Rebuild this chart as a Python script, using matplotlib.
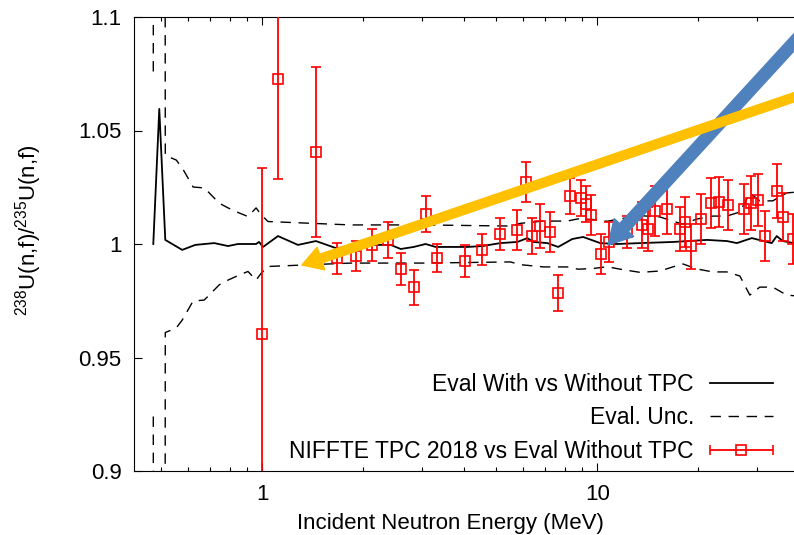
import numpy as np
import matplotlib
matplotlib.use('Agg')
import matplotlib.pyplot as plt
from matplotlib.ticker import FuncFormatter, NullFormatter, FixedLocator
from matplotlib.legend_handler import HandlerErrorbar
from matplotlib.lines import Line2D
from matplotlib.patches import FancyArrowPatch

plt.rcParams['font.family'] = ['Liberation Sans', 'DejaVu Sans']
plt.rcParams['mathtext.fontset'] = 'custom'
plt.rcParams['mathtext.rm'] = 'Liberation Sans'
plt.rcParams['font.size'] = 16

# evaluation with vs without TPC (ratio)
eval_e = [0.4738, 0.4937, 0.5145, 0.578, 0.632, 0.720, 0.792, 0.848, 0.960, 0.980,
          1.007, 1.116, 1.280, 1.448, 1.661, 1.931, 2.154, 2.421, 2.593, 2.835,
          3.077, 3.295, 4.104, 4.548, 5.144, 5.78, 6.19, 6.45, 7.10, 7.65,
          8.43, 9.08, 10.21, 11.47, 13.43, 16.84, 21.26, 24.37, 26.11, 28.93,
          33.18, 34.33, 35.78, 38.59, 42.0]
eval_r = [1.0, 1.0595, 1.0018, 0.9974, 0.9996, 1.0004, 0.9991, 1.0, 1.0, 1.0009,
          0.9987, 1.0035, 0.9996, 1.0013, 0.9982, 0.9991, 0.9996, 0.9996, 0.9978, 0.9987,
          1.0, 0.9987, 0.9987, 0.9991, 1.0004, 1.0009, 1.0026, 1.0009, 1.0004, 0.9987,
          1.0022, 1.0031, 1.0004, 1.0, 1.0004, 1.0009, 1.0018, 1.0013, 1.0004, 1.0026,
          1.0004, 1.0035, 1.0013, 1.0004, 1.0]

# relative evaluation uncertainty (band = 1 +/- unc)
unc_e = [0.4738, 0.4937, 0.5145, 0.5546, 0.578, 0.623, 0.672, 0.696, 0.745, 0.792,
         0.854, 0.908, 0.960, 0.993, 1.042, 1.306, 1.840, 3.077, 5.51, 5.90,
         6.91, 8.14, 8.78, 9.73, 10.71, 11.71, 13.43, 15.40, 17.30, 18.03,
         19.84, 22.14, 24.37, 26.65, 28.54, 30.55, 33.41, 36.77, 40.2]
unc = [0.076, 4.0, 0.039, 0.037, 0.0335, 0.0251, 0.0247, 0.0225, 0.018, 0.0159,
       0.0137, 0.0121, 0.0159, 0.013, 0.0099, 0.0093, 0.0084, 0.0084, 0.0079, 0.0091,
       0.0101, 0.0101, 0.0111, 0.0108, 0.0100, 0.0111, 0.0125, 0.0119, 0.0095, 0.0088,
       0.011, 0.0123, 0.0123, 0.0141, 0.0225, 0.019, 0.019, 0.0225, 0.023]

# NIFFTE TPC 2018 / eval without TPC
tpc_e = [1.0, 1.116, 1.448, 1.672, 1.905, 2.125, 2.371, 2.593, 2.835, 3.077,
         3.318, 4.02, 4.517, 5.144, 5.78, 6.15, 6.41, 6.77, 7.25, 7.65,
         8.31, 8.96, 9.28, 9.60, 10.28, 10.86, 12.28, 13.61, 14.18, 14.88,
         16.16, 17.66, 18.28, 19.05, 20.40, 21.84, 23.08, 24.54, 27.38, 28.73,
         30.15, 31.62, 34.33, 35.78, 38.31]
tpc_r = [0.9604, 1.0727, 1.0405, 0.9938, 0.9947, 0.9996, 1.0018, 0.989, 0.981, 1.0132,
         0.9938, 0.9925, 0.9974, 1.0044, 1.006, 1.0273, 1.0035, 1.008, 1.0053, 0.9784,
         1.0211, 1.0203, 1.0176, 1.0128, 0.9956, 1.0009, 1.0053, 1.0084, 1.0066, 1.0145,
         1.0154, 1.0066, 1.0097, 0.9991, 1.011, 1.018, 1.0185, 1.0172, 1.0154, 1.018,
         1.0194, 1.0035, 1.0233, 1.012, 1.002]
tpc_err = [0.073, 0.044, 0.0375, 0.0068, 0.0068, 0.007, 0.008, 0.007, 0.0077, 0.008,
           0.0062, 0.007, 0.0068, 0.007, 0.0088, 0.009, 0.008, 0.0097, 0.0088, 0.008,
           0.008, 0.008, 0.008, 0.0088, 0.0086, 0.0088, 0.007, 0.010, 0.0095, 0.011,
           0.011, 0.0097, 0.011, 0.0099, 0.011, 0.011, 0.011, 0.011, 0.011, 0.012,
           0.0115, 0.011, 0.012, 0.0106, 0.011]

labels = ['Eval With vs Without TPC', 'Eval. Unc.', 'NIFFTE TPC 2018 vs Eval Without TPC']
yticks = [0.9, 0.95, 1.0, 1.05, 1.1]

W, H = 794, 535
fig = plt.figure(figsize=(W / 100, H / 100), dpi=100)
ax = fig.add_axes([134 / W, 1 - 471 / H, 724 / W, 454 / H])

dash = (0, (7.5, 5.5))
unc_arr = np.array(unc)
ax.plot(eval_e, eval_r, color='black', lw=1.3, zorder=3)
ax.plot(unc_e, 1 + unc_arr, color='black', lw=1.0, ls=dash, zorder=2)
ax.plot(unc_e, 1 - unc_arr, color='black', lw=1.0, ls=dash, zorder=2)
ax.errorbar(tpc_e, tpc_r, yerr=tpc_err, fmt='s', color='red', mfc='none', ms=6.8, mew=1.2,
            elinewidth=1.3, capsize=3.5, capthick=1.3, zorder=4)

# proxy for the horizontal errorbar legend key
proxy = ax.errorbar([1e-3], [1.0], xerr=[1e-4], fmt='s', color='red', mfc='none', ms=6.8,
                    mew=1.2, elinewidth=1.3, capsize=3.5, capthick=1.3)

ax.set_xscale('log')
ax.set_xlim(0.415, 60)
ax.set_ylim(0.9, 1.1)
ax.xaxis.set_major_formatter(FuncFormatter(lambda v, p: f'{v:g}'))
ax.xaxis.set_minor_formatter(NullFormatter())
ax.yaxis.set_major_locator(FixedLocator(yticks))
ax.yaxis.set_major_formatter(FuncFormatter(lambda v, p: f'{v:g}'))
ax.tick_params(which='both', direction='in', top=True, right=True)
ax.tick_params(which='major', length=5.5, width=0.8, pad=9)
ax.tick_params(which='minor', length=3, width=0.8)
for s in ax.spines.values():
    s.set_linewidth(0.8)

ax.set_xlabel('Incident Neutron Energy (MeV)')
ax.xaxis.set_label_coords((450 - 134) / 724, -0.092)
ax.set_ylabel(r'$\mathregular{^{238}U(n{,}f)/^{235}U(n{,}f)}$')
ax.yaxis.set_label_coords((44 - 134) / 724, 0.53)

h1 = Line2D([], [], color='black', lw=1.3)
h2 = Line2D([], [], color='black', lw=1.0, ls=dash)
ax.legend([h1, h2, proxy], labels, markerfirst=False, frameon=False, loc='upper right',
          bbox_to_anchor=(773 / W, 1 - 373 / H), bbox_transform=fig.transFigure,
          fontsize=16.5, handlelength=2.75, handletextpad=0.7, labelspacing=0.45,
          borderpad=0, borderaxespad=0,
          handler_map={proxy: HandlerErrorbar(xerr_size=1.38)})

# annotation arrows
blue = FancyArrowPatch(posA=(820 / W, 1 - 14 / H), posB=(608 / W, 1 - 245 / H),
                       transform=fig.transFigure, shrinkA=0, shrinkB=0, mutation_scale=20,
                       arrowstyle='simple,head_width=0.95,head_length=0.85,tail_width=0.42',
                       color='#4f81bd', zorder=10)
yellow = FancyArrowPatch(posA=(830 / W, 1 - 85 / H), posB=(302 / W, 1 - 265 / H),
                         transform=fig.transFigure, shrinkA=0, shrinkB=0, mutation_scale=20,
                         arrowstyle='simple,head_width=0.86,head_length=0.72,tail_width=0.32',
                         color='#ffc000', zorder=11)
fig.add_artist(blue)
fig.add_artist(yellow)

fig.savefig('out.png', dpi=100)
